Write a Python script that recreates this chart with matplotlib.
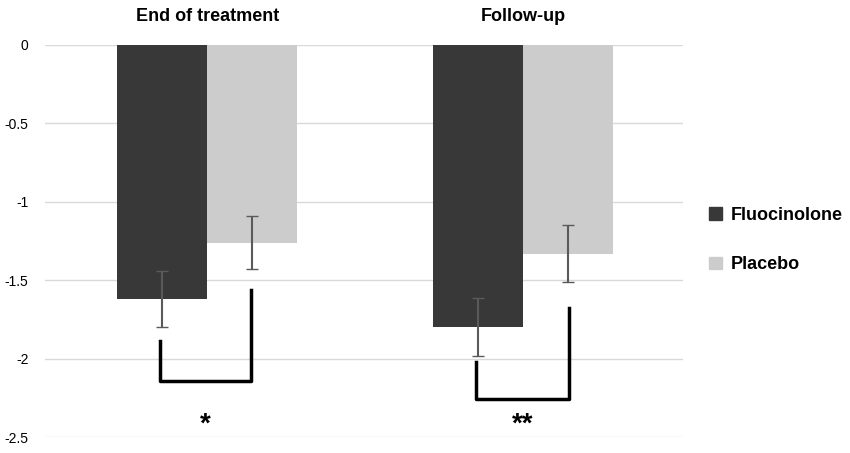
import matplotlib.pyplot as plt
import numpy as np
from matplotlib.patches import Patch

plt.rcParams['font.family'] = ['Liberation Sans', 'DejaVu Sans']

timepoints = ["End of treatment", "Follow-up"]
fluo = [-1.62, -1.80]
fluo_err = [0.18, 0.185]
placebo = [-1.26, -1.33]
placebo_err = [0.17, 0.18]
groups = ["Fluocinolone", "Placebo"]
# significance brackets: (left x, left top y, bottom y, right x, right top y, label)
brackets = [(-0.149, -1.89, -2.14, 0.139, -1.56, "*"),
            (0.851, -2.02, -2.26, 1.146, -1.68, "**")]
yticks = [0, -0.5, -1, -1.5, -2, -2.5]

fig = plt.figure(figsize=(8.5, 4.53), dpi=100)
ax = fig.add_axes([0.053, 0.0353, 0.7505, 0.8654])
x = np.arange(len(timepoints))
w = 0.285
c_dark, c_light = "#383838", "#cccccc"
ax.bar(x - w/2, fluo, w, color=c_dark, zorder=2)
ax.bar(x + w/2, placebo, w, color=c_light, zorder=2)
ax.errorbar(x - w/2, fluo, yerr=fluo_err, fmt='none', ecolor='#5a5a5a', capsize=4, elinewidth=1.5, zorder=3)
ax.errorbar(x + w/2, placebo, yerr=placebo_err, fmt='none', ecolor='#5a5a5a', capsize=4, elinewidth=1.5, zorder=3)

for xl, yl, yb, xr, yr, lab in brackets:
    ax.plot([xl, xl, xr, xr], [yl, yb, yb, yr], color='black', lw=2.5, zorder=4, clip_on=False)
    ax.text((xl + xr) / 2, -2.42, lab, ha='center', va='center', fontsize=20, fontweight='bold')

for i, t in enumerate(timepoints):
    ax.text(x[i], 0.13, t, ha='center', va='bottom', fontsize=13, fontweight='bold')

ax.set_xlim(-0.513, 1.506)
ax.set_ylim(-2.5, 0)
ax.set_yticks(yticks)
ax.set_yticklabels([f"{v:g}" for v in yticks], fontsize=10)
ax.set_xticks([])
ax.grid(axis='y', color='#d9d9d9', lw=1, zorder=0)
for s in ax.spines.values():
    s.set_visible(False)
ax.tick_params(axis='y', length=0, pad=12)

handles = [Patch(color=c_dark), Patch(color=c_light)]
fig.legend(handles, groups, loc='center left', bbox_to_anchor=(0.815, 0.47), frameon=False,
           prop={'weight': 'bold', 'size': 13}, handlelength=0.7, handleheight=0.7,
           labelspacing=1.8, handletextpad=0.5)

fig.savefig("out.png", dpi=100)
